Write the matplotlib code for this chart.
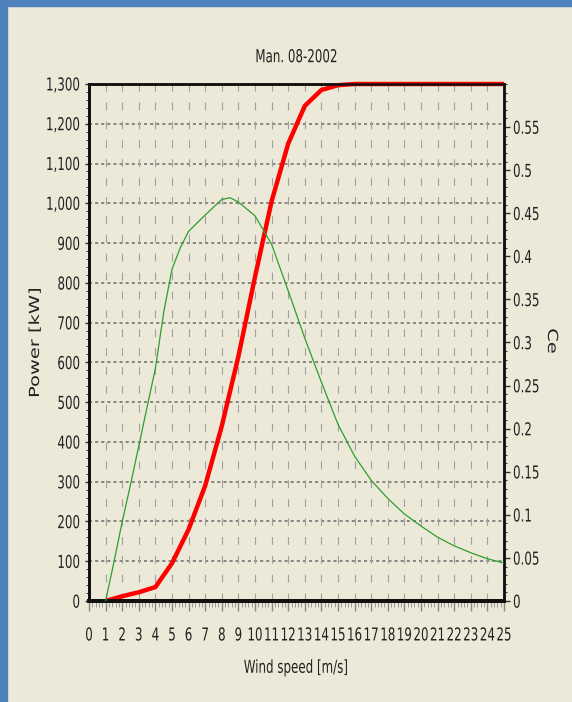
import matplotlib
matplotlib.use("Agg")
import matplotlib.pyplot as plt
from matplotlib import font_manager
from matplotlib.patches import Rectangle
from matplotlib.patheffects import AbstractPathEffect
from matplotlib.transforms import Affine2D
from matplotlib.ticker import MultipleLocator, FixedLocator, FuncFormatter

# ---- data ----
power_x = [1, 2, 3, 4, 5, 6, 7, 8, 9, 10, 11, 12, 13, 14, 15, 16, 17, 18, 19, 20, 21, 22, 23, 24, 25]
power_kw = [0, 12, 22, 35, 95, 180, 290, 440, 615, 815, 1005, 1150, 1245, 1285, 1297,
            1300, 1300, 1300, 1300, 1300, 1300, 1300, 1300, 1300, 1300]
ce_x = [1, 1.5, 2, 2.5, 3, 3.5, 4, 4.5, 5, 5.5, 6, 7, 8, 8.5, 9, 10, 11, 12, 13, 14, 15,
        16, 17, 18, 19, 20, 21, 22, 23, 24, 25]
ce_val = [0, 0.045, 0.092, 0.135, 0.180, 0.225, 0.270, 0.335, 0.385, 0.410, 0.429, 0.448,
          0.466, 0.468, 0.463, 0.447, 0.414, 0.360, 0.305, 0.254, 0.205, 0.168, 0.140,
          0.119, 0.101, 0.087, 0.074, 0.064, 0.056, 0.049, 0.044]
x_ticks = list(range(0, 26))
power_ticks = list(range(0, 1301, 100))
ce_ticks = [0, 0.05, 0.1, 0.15, 0.2, 0.25, 0.3, 0.35, 0.4, 0.45, 0.5, 0.55]
title = "Man. 08-2002"
xlabel = "Wind speed [m/s]"
ylabel_left = "Power [kW]"
ylabel_right = "Ce"


class Stretch(AbstractPathEffect):
    """Scale the glyph outlines about their own centre (tall/narrow look)."""
    def __init__(self, sx=1.0, sy=1.0):
        super().__init__()
        self.sx, self.sy = sx, sy

    def draw_path(self, renderer, gc, tpath, affine, rgbFace=None):
        ext = tpath.get_extents()
        cx, cy = (ext.x0 + ext.x1) / 2, (ext.y0 + ext.y1) / 2
        t = Affine2D().translate(-cx, -cy).scale(self.sx, self.sy).translate(cx, cy)
        renderer.draw_path(gc, tpath, t + affine, rgbFace)


# ---- fonts ----
def find_font():
    for f in font_manager.fontManager.ttflist:
        if f.name == "Liberation Sans Narrow" and f.style == "normal" and f.weight in (400, "normal", "regular"):
            return font_manager.FontProperties(fname=f.fname)
    for f in font_manager.fontManager.ttflist:
        if "Condensed" in f.fname and "DejaVuSans" in f.fname and "Bold" not in f.fname and "Oblique" not in f.fname:
            return font_manager.FontProperties(fname=f.fname)
    return font_manager.FontProperties(family="DejaVu Sans")

narrow = find_font()
FS = 9.5
tall = [Stretch(1.0, 1.35)]
wide = [Stretch(1.4, 1.0)]

BG = "#ECE9D8"
fig = plt.figure(figsize=(5.72, 7.02), dpi=100, facecolor=BG)
W, H = 572, 702
fig.patches.append(Rectangle((0, 0), 7 / W, 1, transform=fig.transFigure, color="#4F81BD", zorder=10))
fig.patches.append(Rectangle((0, 1 - 6 / H), 1, 6 / H, transform=fig.transFigure, color="#4F81BD", zorder=10))

L, R, T, B = 89, 504, 84, 601
ax = fig.add_axes([L / W, 1 - B / H, (R - L) / W, (B - T) / H])
ax.set_facecolor(BG)
ax2 = ax.twinx()

ax.set_xlim(0, 25)
ax.set_ylim(0, 1300)
ax2.set_ylim(0, 0.6)

# grid
for y in power_ticks[1:-1]:
    ax.axhline(y, color="#6A6A6A", lw=1.1, linestyle=(0, (2, 2)), zorder=1)
for xv in x_ticks[1:-1]:
    ax.axvline(xv, color="#A0A0A0", lw=0.8, linestyle=(0, (7, 10)), zorder=1)

ax.plot(power_x, power_kw, color="#FF0000", lw=3.2, zorder=5, clip_on=False, solid_capstyle="butt")
ax2.plot(ce_x, ce_val, color="#2E9E2E", lw=0.9, zorder=5)

# ticks
ax.xaxis.set_major_locator(FixedLocator(x_ticks))
ax.xaxis.set_minor_locator(MultipleLocator(0.2))
ax.yaxis.set_major_locator(FixedLocator(power_ticks))
ax.yaxis.set_minor_locator(MultipleLocator(20))
ax.yaxis.set_major_formatter(FuncFormatter(lambda v, p: f"{int(round(v)):,}"))
ax2.yaxis.set_major_locator(FixedLocator(ce_ticks))
ax2.yaxis.set_minor_locator(MultipleLocator(0.01))
ax2.yaxis.set_major_formatter(FuncFormatter(lambda v, p: f"{v:g}"))

tc = "#333333"
ax.tick_params(axis="x", which="major", length=7, width=1, color="#888888", pad=13, labelcolor="#222222")
ax.tick_params(axis="x", which="minor", length=4, width=0.7, color="#999999")
ax.tick_params(axis="y", which="major", length=3, width=1, color=tc, pad=3.5, labelcolor="#222222")
ax.tick_params(axis="y", which="minor", length=2, width=0.7, color=tc)
ax2.tick_params(axis="y", which="major", length=4, width=1, color=tc, pad=2.5, labelcolor="#222222")
ax2.tick_params(axis="y", which="minor", length=2.5, width=0.8, color=tc)

for lab in ax.get_xticklabels() + ax.get_yticklabels() + ax2.get_yticklabels():
    lab.set_fontproperties(narrow)
    lab.set_fontsize(FS)
    lab.set_path_effects(tall)

for a in (ax, ax2):
    for s in a.spines.values():
        s.set_color("#111111")
        s.set_linewidth(1.8)
    a.spines["bottom"].set_linewidth(2.8)
    a.spines["left"].set_linewidth(2.0)

fig.text((L + R) / 2 / W, 1 - 57 / H, title, fontproperties=narrow, fontsize=FS,
         ha="center", va="center", color="#222222", path_effects=tall)
fig.text((L + R) / 2 / W, 1 - 668 / H, xlabel, fontproperties=narrow, fontsize=FS,
         ha="center", va="center", color="#222222", path_effects=tall)
fig.text(35 / W, 1 - (T + B) / 2 / H, ylabel_left, family="DejaVu Sans", fontsize=10,
         rotation=90, ha="center", va="center", color="#222222", path_effects=wide)
fig.text(552 / W, 1 - 341 / H, ylabel_right, family="DejaVu Sans", fontsize=10,
         rotation=270, ha="center", va="center", color="#222222", path_effects=wide)

fig.savefig("out.png", dpi=100, facecolor=BG)
